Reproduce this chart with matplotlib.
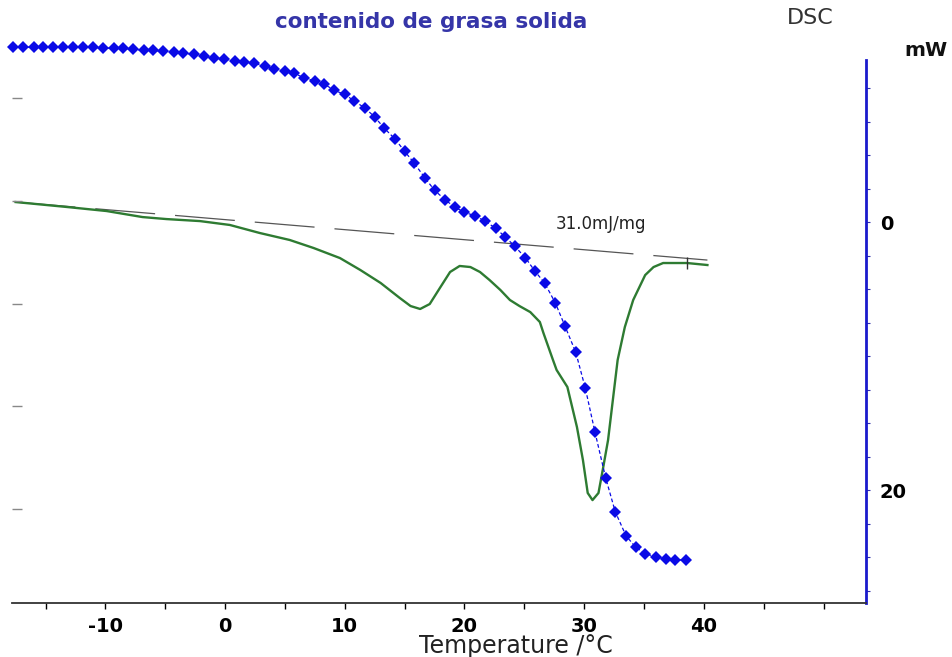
import matplotlib.pyplot as plt

# solid fat content curve (blue markers), temperature in °C and SFC in %
sfc_temp = [-17.7, -16.9, -16.0, -15.2, -14.4, -13.5, -12.7, -11.9, -11.0, -10.2,
            -9.3, -8.5, -7.7, -6.8, -6.0, -5.2, -4.3, -3.5, -2.6, -1.8,
            -0.9, -0.1, 0.8, 1.6, 2.4, 3.3, 4.1, 5.0, 5.8, 6.6,
            7.5, 8.3, 9.1, 10.0, 10.8, 11.7, 12.5, 13.3, 14.2, 15.0,
            15.8, 16.7, 17.5, 18.4, 19.2, 20.0, 20.9, 21.7, 22.6, 23.4,
            24.2, 25.1, 25.9, 26.7, 27.6, 28.4, 29.3, 30.1, 30.9, 31.8,
            32.6, 33.5, 34.3, 35.1, 36.0, 36.8, 37.6, 38.5]
sfc_value = [100.0, 100.0, 100.0, 100.0, 100.0, 100.0, 100.0, 100.0, 100.0, 99.8,
             99.8, 99.8, 99.6, 99.4, 99.4, 99.2, 99.0, 98.8, 98.6, 98.2,
             97.9, 97.7, 97.3, 97.1, 96.9, 96.3, 95.7, 95.3, 94.9, 94.0,
             93.4, 92.8, 91.6, 90.8, 89.5, 88.1, 86.4, 84.2, 82.1, 79.7,
             77.4, 74.5, 72.1, 70.2, 68.8, 67.8, 67.1, 66.1, 64.7, 63.0,
             61.2, 58.9, 56.3, 54.0, 50.1, 45.6, 40.5, 33.5, 25.0, 16.0,
             9.4, 4.7, 2.5, 1.2, 0.6, 0.2, 0.0, 0.0]
sfc_ticks = [10, 30, 50, 70, 90]

# DSC heat flow curve (green), mW, endo downwards on the plot
dsc_temp = [-17.5, -13.2, -9.9, -6.9, -4.9, -2.1, 0.4, 2.9, 5.4, 7.4,
            9.6, 11.3, 13.0, 14.6, 15.5, 16.3, 17.1, 18.0, 18.8, 19.6,
            20.5, 21.3, 22.1, 23.0, 23.8, 24.6, 25.5, 26.3, 26.6, 27.4,
            27.7, 28.6, 29.4, 29.9, 30.3, 30.7, 31.2, 31.6, 32.0, 32.4,
            32.8, 33.4, 34.1, 35.1, 35.8, 36.6, 38.6, 40.3]
dsc_mw = [-1.49, -1.12, -0.82, -0.37, -0.22, -0.07, 0.22, 0.82, 1.34, 1.94,
          2.69, 3.58, 4.55, 5.67, 6.27, 6.49, 6.12, 4.85, 3.73, 3.28,
          3.36, 3.73, 4.33, 5.07, 5.82, 6.27, 6.72, 7.46, 8.28, 10.30,
          11.04, 12.31, 15.30, 17.76, 20.22, 20.75, 20.22, 18.28, 16.27, 13.28,
          10.30, 7.84, 5.82, 3.96, 3.36, 3.06, 3.06, 3.21]

# integration baseline end points
base_temp = [-17.5, 40.3]
base_mw = [-1.49, 2.84]
limit_temp = 38.6
limit_mw = 3.06

x_ticks = [-15, -10, -5, 0, 5, 10, 15, 20, 25, 30, 35, 40, 45, 50]
x_labels = ['', '-10', '', '0', '', '10', '', '20', '', '30', '', '40', '', '']
y_minor = [-10, -7.5, -5, -2.5, 2.5, 5, 7.5, 10, 12.5, 15, 17.5, 22.5, 25, 27.5]

plt.rcParams['font.family'] = ['DejaVu Sans']

fig = plt.figure(figsize=(9.53, 6.57), dpi=100)
ax = fig.add_axes([12 / 953, 1 - 603 / 657, 854 / 953, 543 / 657])
ax2 = ax.twinx()  # SFC scale, created first because twinx resets tick sides

ax.plot(dsc_temp, dsc_mw, color='#2e7b32', lw=1.7, zorder=3)
ax.plot(base_temp, base_mw, color='#555555', lw=0.9, dashes=(48, 16), zorder=2)
ax.plot([limit_temp], [limit_mw], marker='|', ms=9, mew=1.0, color='#333333', zorder=4)
ax.text(27.6, 0.15, '31.0mJ/mg', fontsize=12, color='#222222', ha='left', va='center')

ax.set_xlim(-17.8, 53.55)
ax.set_ylim(28.43, -12.09)
ax.set_xticks(x_ticks)
ax.set_xticklabels(x_labels, fontsize=14, fontweight='bold')
ax.tick_params(axis='x', direction='out', length=4, width=1.0, pad=6)

ax.yaxis.tick_right()
ax.set_yticks([0, 20])
ax.set_yticklabels(['0', '20'], fontsize=14, fontweight='bold')
ax.set_yticks(y_minor, minor=True)
ax.tick_params(axis='y', which='both', direction='out', length=3, width=0.8,
               color='#3333aa', pad=7, left=False, right=True)

for side in ['top', 'left']:
    ax.spines[side].set_visible(False)
ax.spines['bottom'].set_color('#333333')
ax.spines['bottom'].set_linewidth(1.3)
ax.spines['right'].set_color('#1a1acc')
ax.spines['right'].set_linewidth(2.0)

ax2.plot(sfc_temp, sfc_value, color='#0a0ae6', lw=0.9, ls=(0, (3, 2)),
         marker='D', ms=6, mew=0, clip_on=False, zorder=5)
ax2.set_ylim(-8.4, 97.5)
ax2.yaxis.tick_left()
ax2.set_yticks(sfc_ticks)
ax2.set_yticklabels([])
ax2.tick_params(axis='y', direction='in', length=7, width=1.0, color='#888888', pad=0)
for side in ['top', 'left', 'right', 'bottom']:
    ax2.spines[side].set_visible(False)

fig.text(431 / 953, 1 - 22 / 657, 'contenido de grasa solida', ha='center', va='center',
         fontsize=15.5, fontweight='bold', color='#3535a8')
fig.text(810 / 953, 1 - 18 / 657, 'DSC', ha='center', va='center', fontsize=16,
         color='#333333')
fig.text(926 / 953, 1 - 50 / 657, 'mW', ha='center', va='center', fontsize=14.5,
         fontweight='bold', color='#111111')
fig.text(516 / 953, 1 - 646 / 657, 'Temperature /°C', ha='center', va='center',
         fontsize=17, color='#222222')

fig.savefig('out.png', dpi=100)
